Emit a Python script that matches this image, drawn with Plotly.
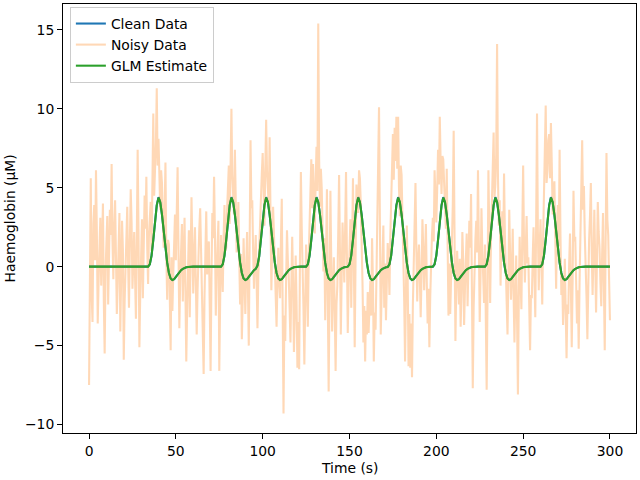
import plotly.graph_objects as go

# Time axis (s) of the clean / GLM curves, one sample per second
time_s = list(range(301))

# Clean simulated haemodynamic response (µM)
clean_data = [
    0, 0, 0, 0, 0, 0, 0, 0, 0, 0,
    0, 0, 0, 0, 0, 0, 0, 0, 0, 0,
    0, 0, 0, 0, 0, 0, 0, 0, 0, 0,
    0, 0, 0, 0, 0, 0.15, 0.7, 1.7, 2.9, 3.9,
    4.4, 4.1, 3.3, 2.2, 1.1, 0.25, -0.4, -0.75, -0.85, -0.8,
    -0.65, -0.5, -0.35, -0.22, -0.14, -0.08, -0.04, -0.02, 0, 0,
    0, 0, 0, 0, 0, 0, 0, 0, 0, 0,
    0, 0, 0, 0, 0, 0, 0, 0.15, 0.7, 1.7,
    2.9, 3.9, 4.4, 4.1, 3.3, 2.2, 1.1, 0.25, -0.4, -0.75,
    -0.85, -0.8, -0.65, -0.5, -0.35, -0.22, -0.14, 0.07, 0.66, 1.68,
    2.9, 3.9, 4.4, 4.1, 3.3, 2.2, 1.1, 0.25, -0.4, -0.75,
    -0.85, -0.8, -0.65, -0.5, -0.35, -0.22, -0.14, -0.08, -0.04, -0.02,
    0, 0, 0, 0, 0, 0, 0.15, 0.7, 1.7, 2.9,
    3.9, 4.4, 4.1, 3.3, 2.2, 1.1, 0.25, -0.4, -0.75, -0.85,
    -0.8, -0.65, -0.5, -0.35, -0.22, -0.14, -0.08, -0.04, -0.02, 0,
    0.15, 0.7, 1.7, 2.9, 3.9, 4.4, 4.1, 3.3, 2.2, 1.1,
    0.25, -0.4, -0.75, -0.85, -0.8, -0.65, -0.5, -0.35, -0.22, -0.14,
    -0.08, -0.04, -0.02, 0.15, 0.7, 1.7, 2.9, 3.9, 4.4, 4.1,
    3.3, 2.2, 1.1, 0.25, -0.4, -0.75, -0.85, -0.8, -0.65, -0.5,
    -0.35, -0.22, -0.14, -0.08, -0.04, -0.02, 0, 0, 0, 0.15,
    0.7, 1.7, 2.9, 3.9, 4.4, 4.1, 3.3, 2.2, 1.1, 0.25,
    -0.4, -0.75, -0.85, -0.8, -0.65, -0.5, -0.35, -0.22, -0.14, -0.08,
    -0.04, -0.02, 0, 0, 0, 0, 0, 0, 0, 0.15,
    0.7, 1.7, 2.9, 3.9, 4.4, 4.1, 3.3, 2.2, 1.1, 0.25,
    -0.4, -0.75, -0.85, -0.8, -0.65, -0.5, -0.35, -0.22, -0.14, -0.08,
    -0.04, -0.02, 0, 0, 0, 0, 0, 0, 0, 0,
    0, 0.15, 0.7, 1.7, 2.9, 3.9, 4.4, 4.1, 3.3, 2.2,
    1.1, 0.25, -0.4, -0.75, -0.85, -0.8, -0.65, -0.5, -0.35, -0.22,
    -0.14, -0.08, -0.04, -0.02, 0, 0, 0, 0, 0, 0,
    0, 0, 0, 0, 0, 0, 0, 0, 0, 0,
    0,
]

# GLM estimate (µM), nearly identical to the clean response
glm_estimate = [
    0, 0, 0, 0, 0, 0, 0, 0, 0, 0,
    0, 0, 0, 0, 0, 0, 0, 0, 0, 0,
    0, 0, 0, 0, 0, 0, 0, 0, 0, 0,
    0, 0, 0, 0, 0, 0.15, 0.7, 1.7, 2.88, 3.88,
    4.37, 4.08, 3.29, 2.2, 1.1, 0.25, -0.4, -0.75, -0.85, -0.8,
    -0.65, -0.5, -0.35, -0.22, -0.14, -0.08, -0.04, -0.02, 0, 0,
    0, 0, 0, 0, 0, 0, 0, 0, 0, 0,
    0, 0, 0, 0, 0, 0, 0, 0.15, 0.7, 1.7,
    2.88, 3.88, 4.37, 4.08, 3.29, 2.2, 1.1, 0.25, -0.4, -0.75,
    -0.85, -0.8, -0.65, -0.5, -0.35, -0.22, -0.14, 0.07, 0.66, 1.68,
    2.88, 3.88, 4.37, 4.08, 3.29, 2.2, 1.1, 0.25, -0.4, -0.75,
    -0.85, -0.8, -0.65, -0.5, -0.35, -0.22, -0.14, -0.08, -0.04, -0.02,
    0, 0, 0, 0, 0, 0, 0.15, 0.7, 1.7, 2.88,
    3.88, 4.37, 4.08, 3.29, 2.2, 1.1, 0.25, -0.4, -0.75, -0.85,
    -0.8, -0.65, -0.5, -0.35, -0.22, -0.14, -0.08, -0.04, -0.02, 0,
    0.15, 0.7, 1.7, 2.88, 3.88, 4.37, 4.08, 3.29, 2.2, 1.1,
    0.25, -0.4, -0.75, -0.85, -0.8, -0.65, -0.5, -0.35, -0.22, -0.14,
    -0.08, -0.04, -0.02, 0.15, 0.7, 1.7, 2.88, 3.88, 4.37, 4.08,
    3.29, 2.2, 1.1, 0.25, -0.4, -0.75, -0.85, -0.8, -0.65, -0.5,
    -0.35, -0.22, -0.14, -0.08, -0.04, -0.02, 0, 0, 0, 0.15,
    0.7, 1.7, 2.88, 3.88, 4.37, 4.08, 3.29, 2.2, 1.1, 0.25,
    -0.4, -0.75, -0.85, -0.8, -0.65, -0.5, -0.35, -0.22, -0.14, -0.08,
    -0.04, -0.02, 0, 0, 0, 0, 0, 0, 0, 0.15,
    0.7, 1.7, 2.88, 3.88, 4.37, 4.08, 3.29, 2.2, 1.1, 0.25,
    -0.4, -0.75, -0.85, -0.8, -0.65, -0.5, -0.35, -0.22, -0.14, -0.08,
    -0.04, -0.02, 0, 0, 0, 0, 0, 0, 0, 0,
    0, 0.15, 0.7, 1.7, 2.88, 3.88, 4.37, 4.08, 3.29, 2.2,
    1.1, 0.25, -0.4, -0.75, -0.85, -0.8, -0.65, -0.5, -0.35, -0.22,
    -0.14, -0.08, -0.04, -0.02, 0, 0, 0, 0, 0, 0,
    0, 0, 0, 0, 0, 0, 0, 0, 0, 0,
    0,
]

noisy_time = [i * 0.5 for i in range(601)]
noisy_data = [
    -7.5, 1.2, 5.6, -1.8, -3.5, 2.7, 3.9, 0.4, 6.1, 2.2,
    -3.6, -0.9, 2.4, 3.1, -1.2, 1.8, 4.0, -2.1, -5.5, -0.3,
    1.3, 3.2, -2.4, 0.9, 3.6, 2.0, 6.5, 1.6, -0.8, 2.5,
    4.2, 0.7, -3.0, -1.1, 1.7, 3.4, -4.1, -0.6, 2.9, 1.1,
    -5.9, -2.2, 0.6, 2.5, 3.8, 0.2, -2.6, 1.5, 4.9, 2.8,
    -1.4, 0.3, 2.2, -0.7, -3.3, 1.9, 7.4, 2.1, -5.1, -1.6,
    1.9, 3.0, -2.0, 0.8, 4.5, 2.4, 5.7, 1.3, -1.1, 2.0,
    2.8, 4.1, 1.0, 5.6, 9.7, 4.5, 6.2, 7.8, 11.3, 6.4,
    8.1, 5.0, 3.6, 6.1, 5.3, 2.9, 1.2, 3.4, 6.6, 0.8,
    -2.1, 1.7, 1.4, -1.9, -5.3, 0.6, -2.8, -0.5, 2.0, 3.3,
    0.4, 2.6, 6.3, 1.1, -3.9, -0.8, 1.5, 2.7, -2.2, 0.9,
    3.1, -1.4, -6.0, -2.7, 0.9, 2.3, -3.2, 0.1, 4.4, 1.5,
    -1.7, 0.5, 2.5, -0.9, -4.3, -1.5, 1.1, 2.4, 3.7, 0.6,
    -2.8, -4.0, -6.8, -1.9, 2.3, 3.5, -0.5, 1.3, 1.6, -2.4,
    -6.6, -0.7, 3.4, 1.8, 5.7, 2.2, -3.1, -0.4, 0.8, 2.9,
    -6.6, -2.3, 2.0, 0.1, -1.6, 1.9, 3.9, 1.0, 1.2, 3.6,
    5.2, 6.4, 2.7, 6.9, 10.0, 5.8, 4.6, 3.3, 7.4, 4.0,
    0.9, 2.6, 4.1, 0.5, -2.4, 0.8, -4.6, -2.0, 1.8, -0.6,
    -3.0, -0.2, 2.2, -1.3, -5.0, 1.5, 8.0, 3.7, 4.2, 1.0,
    -1.4, 0.6, 2.0, -0.8, -3.9, -0.5, 1.5, 3.4, 4.3, 5.9,
    7.2, 4.9, 2.6, 6.2, 9.3, 6.0, 5.1, 3.9, 8.2, 4.6,
    -1.5, 1.3, 3.8, 2.0, 0.4, -1.6, -3.8, -1.0, 1.2, -0.9,
    -2.0, 1.6, 4.3, -2.5, -9.3, -3.1, -4.7, -0.8, 2.3, 0.4,
    -0.6, -2.6, -4.8, -1.2, 1.9, -0.9, -5.4, -2.9, 0.7, -2.2,
    -6.4, -3.5, -6.5, 0.8, 6.0, 2.4, 0.5, -2.7, -6.2, -2.0,
    1.4, -0.9, -3.8, 0.6, 3.0, 4.6, 6.8, 3.7, 6.5, 4.3,
    2.1, 5.4, 7.6, 4.8, 15.4, 6.9, 3.8, 6.2, 5.0, 2.3,
    -0.3, 1.8, -3.4, 0.7, 4.9, -2.2, -7.9, -1.3, 4.8, 0.2,
    -4.1, -1.5, 0.6, -2.8, -6.6, -2.4, -1.2, 2.0, 5.8, 1.1,
    -4.3, -0.6, 2.8, 0.9, -1.0, 2.5, 6.0, 0.8, -4.2, -1.3,
    1.3, 3.0, -2.6, 1.4, 5.6, 0.3, -5.1, 0.6, 5.2, 3.8,
    3.4, 6.1, 5.6, 4.0, 2.2, -1.1, -4.8, -2.5, -6.0, -2.8,
    -4.3, -1.6, -4.2, -2.0, -0.9, -3.1, 1.8, -1.0, -6.0, -2.9,
    -4.0, -0.8, 2.4, 4.3, 10.1, 2.9, -4.3, -1.7, 0.9, 2.6,
    -2.6, 0.2, -3.4, -1.1, 1.5, 0.4, -1.8, 1.9, 4.1, 6.0,
    8.4, 5.5, 8.8, 6.7, 9.5, 6.2, 9.5, 5.0, 3.2, 6.4,
    5.8, 3.1, 1.0, -2.2, -6.0, -1.5, 2.6, -0.6, -6.3, -3.0,
    -6.4, -3.6, -7.0, -2.4, 0.8, 2.9, 5.3, 1.2, -2.2, 0.3,
    1.4, -0.7, -3.2, -0.4, 3.0, 1.1, -1.5, 0.6, 2.7, -0.9,
    -3.6, -1.4, -5.1, -1.9, 0.9, 2.0, 3.1, 1.6, 6.1, 3.4,
    2.8, 4.9, 7.4, 5.2, 9.5, 6.6, 4.6, 7.0, 6.8, 5.3,
    4.2, 2.4, 6.2, 1.3, -3.1, 0.2, -3.0, -0.8, 1.6, 4.0,
    8.6, 1.9, -4.7, -1.2, 1.0, -0.6, -2.4, 0.5, -3.8, -1.6,
    2.2, 0.4, -3.7, -1.4, 0.6, 2.1, -2.5, 0.3, 2.9, 1.2,
    4.6, -1.3, -7.7, -2.6, 0.3, 1.7, 2.9, 0.9, 6.1, 1.8,
    -3.5, -0.4, 3.7, 1.0, -0.9, -2.3, 1.4, -2.9, -7.8, -1.7,
    6.1, 2.3, -2.3, 1.8, 4.3, 6.0, 8.5, 4.4, 5.2, 7.1,
    14.1, 5.7, 2.6, 4.2, -1.2, 1.5, 3.5, 0.6, 5.9, 2.0,
    -0.4, -2.6, -4.3, -0.7, 3.6, 0.8, -2.1, -0.3, 2.4, -1.8,
    -4.8, -1.9, 0.7, -3.4, -8.1, -2.0, 1.9, -0.8, -2.7, 2.2,
    6.4, 1.5, -1.0, 1.1, 3.2, 0.2, 0.6, -2.4, -5.3, -1.8,
    -2.0, 0.5, 2.5, -0.6, -3.2, 2.8, 9.7, 2.2, -1.5, 1.0,
    3.0, 0.6, -2.4, 1.8, 5.0, 7.4, 10.2, 5.3, 6.1, 8.0,
    8.4, 5.6, 9.1, 6.5, 3.3, 4.8, 5.4, 1.9, -1.4, 2.7,
    3.9, 1.3, 7.4, 2.0, -1.8, -0.6, -3.7, -1.9, 0.5, -2.7,
    -5.8, -2.4, -3.0, 0.2, 2.1, -1.3, -5.1, -0.9, 4.8, 1.6,
    1.9, -0.8, -3.6, -1.5, -5.2, -1.0, 2.4, 4.0, 8.0, 3.6,
    5.1, 2.0, 0.3, -1.9, -4.6, -0.7, 1.7, 3.2, 5.3, 0.9,
    -1.8, 0.7, 3.6, 0.4, -2.9, 0.3, 4.1, 2.2, 1.2, -1.0,
    -2.5, 0.8, 3.4, -1.2, -5.3, 1.4, 7.2, 3.0, 2.0, -0.8,
    -3.4,
]

series_names = ["Clean Data", "Noisy Data", "GLM Estimate"]
x_ticks = [0, 50, 100, 150, 200, 250, 300]
y_ticks = [-10, -5, 0, 5, 10, 15]
x_label = "Time (s)"
y_label = "Haemoglobin (μM)"

FONT = "DejaVu Sans, Liberation Sans, sans-serif"
LW = 2.08  # 1.5 pt at 100 dpi
FS = 13.9  # 10 pt at 100 dpi

fig = go.Figure()
fig.add_trace(go.Scatter(x=time_s, y=clean_data, mode="lines", name=series_names[0],
                         line=dict(color="#1f77b4", width=LW)))
fig.add_trace(go.Scatter(x=noisy_time, y=noisy_data, mode="lines", name=series_names[1],
                         line=dict(color="rgba(255,127,14,0.3)", width=LW)))
fig.add_trace(go.Scatter(x=time_s, y=glm_estimate, mode="lines", name=series_names[2],
                         line=dict(color="#2ca02c", width=LW)))

ymin = min(noisy_data)
ymax = max(noisy_data)
pad = 0.05 * (ymax - ymin)

axis_common = dict(
    showline=True, linecolor="black", linewidth=1.1, mirror=True,
    ticks="outside", ticklen=4.9, tickwidth=1.1, tickcolor="black",
    showgrid=False, zeroline=False, automargin=False,
    tickfont=dict(family=FONT, size=FS, color="black"),
)

fig.update_layout(
    width=640, height=480,
    margin=dict(l=63, r=4, t=4, b=47, autoexpand=False),
    paper_bgcolor="white", plot_bgcolor="white",
    font=dict(family=FONT, size=FS, color="black"),
    xaxis=dict(range=[-15, 315], tickvals=x_ticks, **axis_common),
    yaxis=dict(range=[ymin - pad, ymax + pad], tickvals=y_ticks, **axis_common),
    legend=dict(x=0.012, y=0.993, xanchor="left", yanchor="top",
                bgcolor="rgba(255,255,255,0.8)", bordercolor="#cccccc", borderwidth=1,
                font=dict(family=FONT, size=FS, color="black"),
                itemwidth=30, tracegroupgap=0),
    showlegend=True,
    annotations=[
        dict(text=x_label, xref="paper", yref="paper", x=0.5, y=-0.0816,
             xanchor="center", yanchor="middle", showarrow=False,
             font=dict(family=FONT, size=FS, color="black")),
        dict(text=y_label, xref="paper", yref="paper", x=-0.0925, y=0.5,
             xanchor="center", yanchor="middle", showarrow=False, textangle=-90,
             font=dict(family=FONT, size=FS, color="black")),
    ],
)

fig.write_html("out.html",
               config={"displayModeBar": False},
               post_script="document.body.style.margin='0';document.body.style.padding='0';")
